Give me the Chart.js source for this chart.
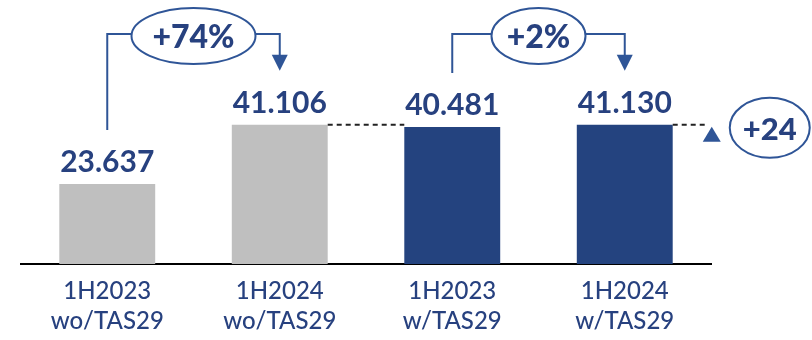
<!DOCTYPE html>
<html>
<head>
<meta charset="utf-8">
<script src="https://cdn.jsdelivr.net/npm/chart.js@4"></script>
<style>
html, body { margin: 0; padding: 0; background: #fff; }
</style>
</head>
<body>
<canvas id="chart" width="812" height="340"></canvas>
<script>
// data
const CATEGORIES = [['1H2023', 'wo/TAS29'], ['1H2024', 'wo/TAS29'], ['1H2023', 'w/TAS29'], ['1H2024', 'w/TAS29']];
const VALUES = [23637, 41106, 40481, 41130];
const GROWTH_LABELS = ['+74%', '+2%'];   // bar 0 -> 1, bar 2 -> 3
const DIFF_LABEL = '+24';                // 41.130 vs 41.106

const GRAY = '#BFBFBF';
const NAVY = '#24437F';
const TEXT_BLUE = '#27417F';
const LINE_BLUE = '#2F5597';
const BAR_COLORS = [GRAY, GRAY, NAVY, NAVY];

const fmt = v => v.toLocaleString('de-DE');

function bubble(ctx, cx, cy, rx, ry, text, size) {
    ctx.beginPath();
    ctx.ellipse(cx, cy, rx, ry, 0, 0, Math.PI * 2);
    ctx.fillStyle = '#fff';
    ctx.fill();
    ctx.stroke();
    ctx.fillStyle = TEXT_BLUE;
    ctx.font = '900 ' + size + 'px Lato';
    ctx.textAlign = 'center';
    ctx.textBaseline = 'middle';
    ctx.fillText(text, cx, cy + 2);
}

function arrowDown(ctx, x, tipY) {
    ctx.beginPath();
    ctx.moveTo(x - 8, tipY - 16);
    ctx.lineTo(x + 8, tipY - 16);
    ctx.lineTo(x, tipY);
    ctx.closePath();
    ctx.fill();
}

const annotations = {
    id: 'annotations',
    afterDatasetsDraw(chart) {
        const ctx = chart.ctx;
        const bars = chart.getDatasetMeta(0).data;
        ctx.save();

        // value labels over the bars
        ctx.font = 'bold 30px Lato';
        ctx.fillStyle = TEXT_BLUE;
        ctx.textAlign = 'center';
        ctx.textBaseline = 'alphabetic';
        bars.forEach((b, i) => ctx.fillText(fmt(VALUES[i]), b.x, b.y - 12));

        // growth brackets
        const pairs = [[0, 1], [2, 3]];
        const radii = [62, 47];
        const topY = 34;
        ctx.strokeStyle = LINE_BLUE;
        ctx.lineWidth = 2;
        pairs.forEach(([a, b], k) => {
            const xa = bars[a].x, xb = bars[b].x;
            const cx = (xa + xb) / 2;
            const rx = radii[k];
            const tip = bars[b].y - 54;
            ctx.beginPath();
            ctx.moveTo(xa, bars[a].y - 54);
            ctx.lineTo(xa, topY);
            ctx.lineTo(cx - rx, topY);
            ctx.moveTo(cx + rx, topY);
            ctx.lineTo(xb, topY);
            ctx.lineTo(xb, tip - 14);
            ctx.stroke();
            ctx.fillStyle = LINE_BLUE;
            arrowDown(ctx, xb, tip);
            bubble(ctx, cx, 36, rx, 28, GROWTH_LABELS[k], 32);
        });

        // dashed reference line at the 1H2024 wo/TAS29 level
        const y1 = bars[1].y;
        const w = bars[3].width / 2;
        ctx.save();
        ctx.strokeStyle = '#222';
        ctx.lineWidth = 2;
        ctx.setLineDash([5, 4]);
        ctx.beginPath();
        ctx.moveTo(bars[1].x + w, y1);
        ctx.lineTo(bars[2].x - w, y1);
        ctx.moveTo(bars[3].x + w, bars[3].y);
        ctx.lineTo(bars[3].x + w + 32, bars[3].y);
        ctx.stroke();
        ctx.restore();

        // small up triangle and +24 bubble
        const tx = bars[3].x + 87, ty = bars[3].y + 2;
        ctx.fillStyle = LINE_BLUE;
        ctx.beginPath();
        ctx.moveTo(tx, ty);
        ctx.lineTo(tx + 9, ty + 15);
        ctx.lineTo(tx - 9, ty + 15);
        ctx.closePath();
        ctx.fill();
        bubble(ctx, bars[3].x + 145, bars[3].y + 3, 40, 30, DIFF_LABEL, 31);

        ctx.restore();
    }
};

new Chart(document.getElementById('chart'), {
    type: 'bar',
    data: {
        labels: CATEGORIES,
        datasets: [{
            data: VALUES,
            backgroundColor: BAR_COLORS,
            barPercentage: 0.556,
            categoryPercentage: 1
        }]
    },
    options: {
        responsive: false,
        animation: false,
        layout: { padding: { left: 21, right: 101, top: 0, bottom: 0 } },
        plugins: {
            legend: { display: false },
            tooltip: { enabled: false }
        },
        scales: {
            x: {
                grid: { display: false, drawTicks: false },
                border: { display: true, color: '#000', width: 2 },
                ticks: {
                    color: TEXT_BLUE,
                    font: { family: 'Lato', size: 24, weight: '500', lineHeight: 1.25 },
                    padding: 12,
                    maxRotation: 0,
                    autoSkip: false
                },
                afterFit(scale) { scale.height = 76; }
            },
            y: { display: false, min: 0, max: 78000 }
        }
    },
    plugins: [annotations]
});
</script>
</body>
</html>
